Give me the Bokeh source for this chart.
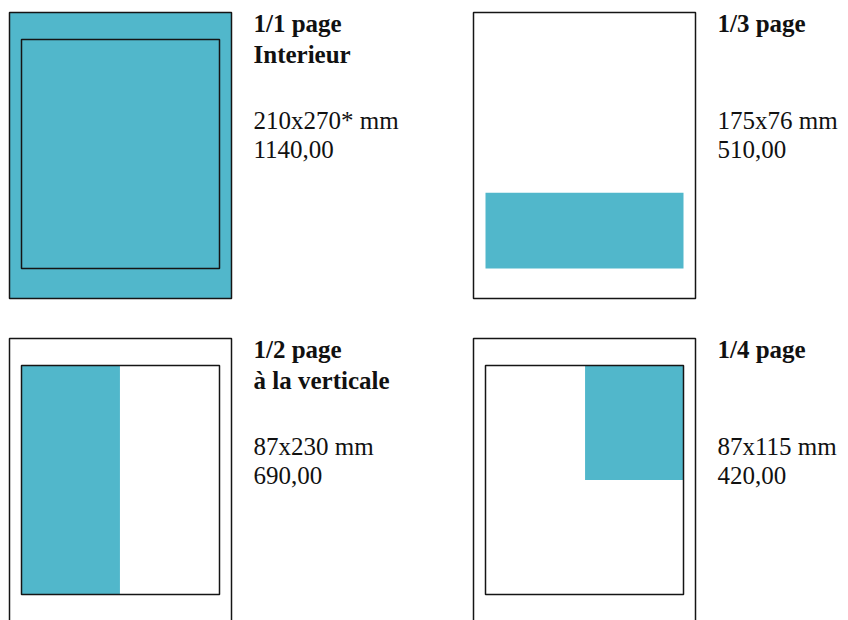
from bokeh.plotting import figure
from bokeh.models import Range1d
from bokeh.embed import file_html
from bokeh.resources import INLINE
from bokeh.core.properties import value

# ---- data ----
formats = ["1/1 page", "1/3 page", "1/2 page", "1/4 page"]
subtitles = ["Interieur", "", "à la verticale", ""]
dims = ["210x270* mm", "175x76 mm", "87x230 mm", "87x115 mm"]
prices = ["1140,00", "510,00", "690,00", "420,00"]
ad_w_mm = [210, 175, 87, 87]
ad_h_mm = [270, 76, 230, 115]
anchors = ["bleed", "bottom", "left", "topright"]
show_inner = [True, False, True, True]
type_w_mm, type_h_mm = 175, 230

# ---- layout (screen-like units, y downward) ----
W, H = 848, 620
col_x = [9, 473, 9, 473]
row_y = [12, 12, 338, 338]
page_w, page_h = 222, 286
in_dx, in_dy, in_w, in_h = 12, 27, 198, 229
text_dx = 244
adj = -8
TEAL = "#51B7CB"
LINE = "#151515"
FONT = value("Liberation Serif")

p = figure(width=W, height=H, x_range=Range1d(0, W), y_range=Range1d(H, 0),
           output_backend="svg", toolbar_location=None, min_border=0)
p.axis.visible = False
p.grid.visible = False
p.outline_line_color = None
p.background_fill_color = "white"
p.border_fill_color = "white"

ad_l, ad_r, ad_t, ad_b = [], [], [], []
for i in range(4):
    px, py = col_x[i], row_y[i]
    ix, iy = px + in_dx, py + in_dy
    w = ad_w_mm[i] / type_w_mm * in_w
    h = ad_h_mm[i] / type_h_mm * in_h
    a = anchors[i]
    if a == "bleed":
        l, r, t, b = px, px + page_w, py, py + page_h
    elif a == "bottom":
        l, r, b = ix, ix + w, iy + in_h
        t = b - h
    elif a == "left":
        l, r, t, b = ix, ix + w, iy, iy + h
    else:
        r, t = ix + in_w, iy
        l, b = r - w, iy + h
    ad_l.append(l); ad_r.append(r); ad_t.append(t); ad_b.append(b)

p.quad(left=ad_l, right=ad_r, top=ad_t, bottom=ad_b, fill_color=TEAL, line_color=None)

p.quad(left=col_x, right=[x + page_w for x in col_x], top=row_y,
       bottom=[y + page_h for y in row_y], fill_color=None, line_color=LINE, line_width=1.5)

idx = [i for i in range(4) if show_inner[i]]
p.quad(left=[col_x[i] + in_dx for i in idx], right=[col_x[i] + in_dx + in_w for i in idx],
       top=[row_y[i] + in_dy for i in idx], bottom=[row_y[i] + in_dy + in_h for i in idx],
       fill_color=None, line_color=LINE, line_width=1.5)

tx = [x + text_dx for x in col_x]
kw = dict(text_font=FONT, text_font_size="25px", text_baseline="alphabetic", text_color="#111111")
p.text(x=tx, y=[y + 19 + adj for y in row_y], text=formats, text_font_style="bold", **kw)
p.text(x=tx, y=[y + 50 + adj for y in row_y], text=subtitles, text_font_style="bold", **kw)
p.text(x=tx, y=[y + 116 + adj for y in row_y], text=dims, **kw)
p.text(x=tx, y=[y + 145 + adj for y in row_y], text=prices, **kw)

open("out.html", "w").write(file_html(p, INLINE))
